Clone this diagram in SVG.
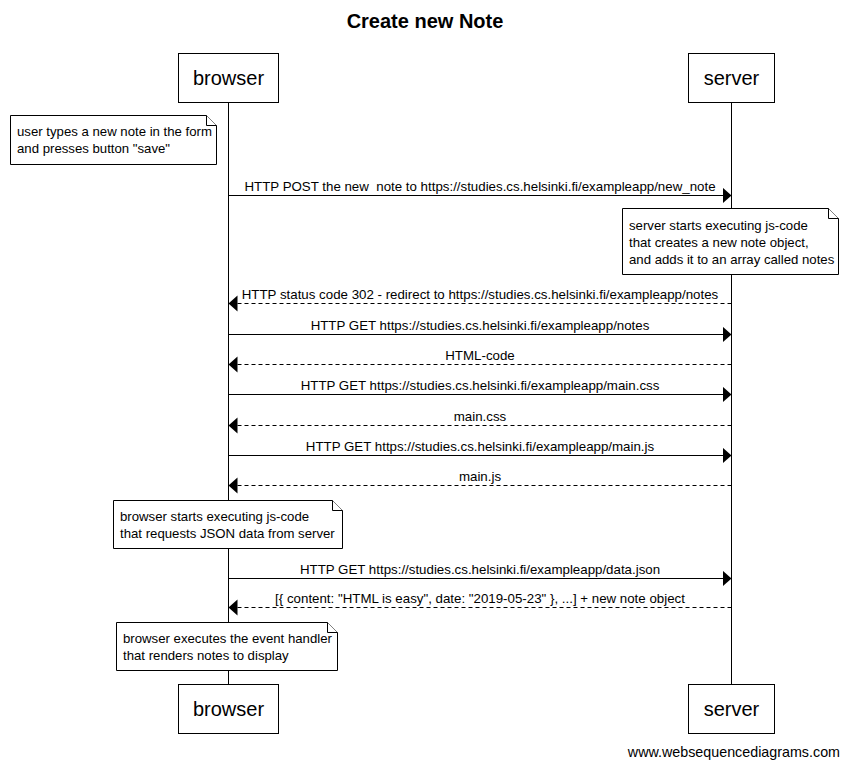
<svg xmlns="http://www.w3.org/2000/svg" width="848" height="768" viewBox="0 0 848 768">
  <style>
    .bg { fill: #ffffff; }
    .actor { fill: #ffffff; stroke: #000000; stroke-width: 1; }
    .actor-label { font-family: "Liberation Sans", Arial, sans-serif; font-size: 20px; fill: #000000; text-anchor: middle; }
    .lifeline { stroke: #000000; stroke-width: 1; fill: none; }
    .msg { stroke: #000000; stroke-width: 1; fill: none; }
    .reply { stroke-dasharray: 4 3; }
    .msg-label { font-family: "Liberation Sans", Arial, sans-serif; font-size: 13.3px; fill: #000000; text-anchor: middle; white-space: pre; }
    .note { fill: #ffffff; stroke: #000000; stroke-width: 1; }
    .note-text { font-family: "Liberation Sans", Arial, sans-serif; font-size: 13.2px; fill: #000000; }
    .title { font-family: "Liberation Sans", Arial, sans-serif; font-size: 20px; font-weight: bold; fill: #000000; text-anchor: middle; }
    .credit { font-family: "Liberation Sans", Arial, sans-serif; font-size: 14.3px; fill: #000000; text-anchor: end; }
  </style>
  <defs>
    <marker id="head" markerUnits="userSpaceOnUse" markerWidth="10" markerHeight="18" refX="9" refY="8" orient="auto">
      <path d="M0,0 L9,8 L0,16 Z" fill="#000000"/>
    </marker>
  </defs>

  <rect class="bg" x="0" y="0" width="848" height="768"/>
  <text class="title" x="425" y="28">Create new Note</text>

  <!-- lifelines -->
  <g id="lifelines">
    <line class="lifeline" x1="228.5" y1="102" x2="228.5" y2="684"/>
    <line class="lifeline" x1="731.5" y1="102" x2="731.5" y2="684"/>
  </g>

  <!-- participants -->
  <g id="browser-top">
    <rect class="actor" x="178.5" y="53.5" width="100" height="49"/>
    <text class="actor-label" x="228.5" y="85">browser</text>
  </g>
  <g id="server-top">
    <rect class="actor" x="688.5" y="53.5" width="86" height="49"/>
    <text class="actor-label" x="731.5" y="85">server</text>
  </g>
  <g id="browser-bottom">
    <rect class="actor" x="178.5" y="684.5" width="100" height="49"/>
    <text class="actor-label" x="228.5" y="716">browser</text>
  </g>
  <g id="server-bottom">
    <rect class="actor" x="688.5" y="684.5" width="86" height="49"/>
    <text class="actor-label" x="731.5" y="716">server</text>
  </g>

  <!-- notes -->
  <g id="note-user-types">
    <path class="note" d="M10.5,115.5 H206.5 L216.5,125.5 V164.5 H10.5 Z"/>
    <path class="note" d="M206.5,115.5 V125.5 H216.5"/>
    <text class="note-text" x="17" y="136">user types a new note in the form</text>
    <text class="note-text" x="17" y="153">and presses button "save"</text>
  </g>
  <g id="note-server-executes">
    <path class="note" d="M622.5,208.5 H828.5 L838.5,218.5 V274.5 H622.5 Z"/>
    <path class="note" d="M828.5,208.5 V218.5 H838.5"/>
    <text class="note-text" x="629" y="230">server starts executing js-code</text>
    <text class="note-text" x="629" y="247">that creates a new note object,</text>
    <text class="note-text" x="629" y="264">and adds it to an array called notes</text>
  </g>
  <g id="note-browser-js">
    <path class="note" d="M113.5,500.5 H332.5 L342.5,510.5 V548.5 H113.5 Z"/>
    <path class="note" d="M332.5,500.5 V510.5 H342.5"/>
    <text class="note-text" x="120" y="521">browser starts executing js-code</text>
    <text class="note-text" x="120" y="538">that requests JSON data from server</text>
  </g>
  <g id="note-browser-render">
    <path class="note" d="M116.5,622.5 H327.5 L337.5,632.5 V670.5 H116.5 Z"/>
    <path class="note" d="M327.5,622.5 V632.5 H337.5"/>
    <text class="note-text" x="123" y="643">browser executes the event handler</text>
    <text class="note-text" x="123" y="660">that renders notes to display</text>
  </g>

  <!-- messages -->
  <g id="connectors">
    <line class="msg" x1="228.5" y1="195.5" x2="731.5" y2="195.5" marker-end="url(#head)"/>
    <text class="msg-label" x="480" y="191" xml:space="preserve">HTTP POST the new  note to https://studies.cs.helsinki.fi/exampleapp/new_note</text>

    <line class="msg reply" x1="731.5" y1="303.5" x2="228.5" y2="303.5" marker-end="url(#head)"/>
    <text class="msg-label" x="480" y="299">HTTP status code 302 - redirect to https://studies.cs.helsinki.fi/exampleapp/notes</text>

    <line class="msg" x1="228.5" y1="334.5" x2="731.5" y2="334.5" marker-end="url(#head)"/>
    <text class="msg-label" x="480" y="330">HTTP GET https://studies.cs.helsinki.fi/exampleapp/notes</text>

    <line class="msg reply" x1="731.5" y1="364.5" x2="228.5" y2="364.5" marker-end="url(#head)"/>
    <text class="msg-label" x="480" y="360">HTML-code</text>

    <line class="msg" x1="228.5" y1="394.5" x2="731.5" y2="394.5" marker-end="url(#head)"/>
    <text class="msg-label" x="480" y="390">HTTP GET https://studies.cs.helsinki.fi/exampleapp/main.css</text>

    <line class="msg reply" x1="731.5" y1="425.5" x2="228.5" y2="425.5" marker-end="url(#head)"/>
    <text class="msg-label" x="480" y="421">main.css</text>

    <line class="msg" x1="228.5" y1="455.5" x2="731.5" y2="455.5" marker-end="url(#head)"/>
    <text class="msg-label" x="480" y="451">HTTP GET https://studies.cs.helsinki.fi/exampleapp/main.js</text>

    <line class="msg reply" x1="731.5" y1="485.5" x2="228.5" y2="485.5" marker-end="url(#head)"/>
    <text class="msg-label" x="480" y="481">main.js</text>

    <line class="msg" x1="228.5" y1="578.5" x2="731.5" y2="578.5" marker-end="url(#head)"/>
    <text class="msg-label" x="480" y="574">HTTP GET https://studies.cs.helsinki.fi/exampleapp/data.json</text>

    <line class="msg reply" x1="731.5" y1="607.5" x2="228.5" y2="607.5" marker-end="url(#head)"/>
    <text class="msg-label" x="480" y="603">[{ content: "HTML is easy", date: "2019-05-23" }, ...] + new note object</text>
  </g>

  <text class="credit" x="840" y="757">www.websequencediagrams.com</text>
</svg>
